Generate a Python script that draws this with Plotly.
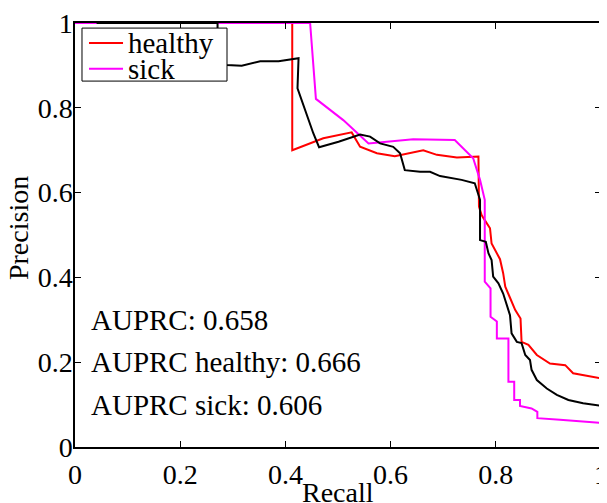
import plotly.graph_objects as go

# ---- data ----
healthy_recall = [0, 0.413, 0.413, 0.472, 0.526, 0.542, 0.574, 0.608, 0.662, 0.688, 0.726, 0.767,
                  0.768, 0.773, 0.779, 0.789, 0.792, 0.808, 0.814, 0.818, 0.827, 0.837, 0.847, 0.849,
                  0.862, 0.878, 0.903, 0.932, 0.947, 0.979, 1.0]
healthy_prec = [1, 1, 0.700, 0.728, 0.742, 0.708, 0.693, 0.686, 0.700, 0.689, 0.683, 0.685,
                0.567, 0.547, 0.535, 0.516, 0.480, 0.443, 0.410, 0.378, 0.352, 0.323, 0.303, 0.248,
                0.241, 0.217, 0.197, 0.193, 0.174, 0.166, 0.162]

sick_recall = [0, 0.447, 0.458, 0.510, 0.558, 0.643, 0.722, 0.757, 0.770, 0.779, 0.779, 0.790, 0.790,
               0.802, 0.802, 0.824, 0.824, 0.835, 0.835, 0.846, 0.846, 0.868, 0.879, 0.879, 0.922,
               0.966, 1.0]
sick_prec = [1, 1, 0.821, 0.771, 0.716, 0.726, 0.724, 0.681, 0.630, 0.583, 0.390, 0.374, 0.307,
             0.296, 0.256, 0.256, 0.154, 0.154, 0.111, 0.111, 0.097, 0.091, 0.083, 0.068, 0.064,
             0.060, 0.057]

all_recall = [0.041, 0.271, 0.271, 0.288, 0.317, 0.352, 0.387, 0.425, 0.423, 0.431, 0.440, 0.453,
              0.464, 0.501, 0.542, 0.561, 0.580, 0.605, 0.618, 0.627, 0.656, 0.675, 0.694, 0.719,
              0.735, 0.760, 0.770, 0.770, 0.781, 0.786, 0.792, 0.795, 0.805, 0.814, 0.821, 0.827,
              0.830, 0.840, 0.849, 0.856, 0.865, 0.868, 0.878, 0.897, 0.916, 0.938, 0.966, 1.0]
all_prec = [1, 1, 0.905, 0.901, 0.899, 0.910, 0.910, 0.917, 0.846, 0.818, 0.783, 0.740,
            0.707, 0.720, 0.737, 0.732, 0.716, 0.708, 0.693, 0.653, 0.649, 0.649, 0.639, 0.634,
            0.630, 0.622, 0.583, 0.488, 0.484, 0.457, 0.441, 0.402, 0.386, 0.362, 0.331, 0.311,
            0.268, 0.248, 0.245, 0.217, 0.205, 0.182, 0.158, 0.138, 0.123, 0.111, 0.103, 0.097]

tick_vals = [0, 0.2, 0.4, 0.6, 0.8, 1]
tick_text = ["0", "0.2", "0.4", "0.6", "0.8", "1"]

auprc_labels = ["AUPRC: 0.658", "AUPRC healthy: 0.666", "AUPRC sick: 0.606"]
auprc_y = [0.3, 0.2, 0.1]

legend_names = ["healthy", "sick"]
legend_colors = ["#ff0000", "#ff00ff"]

FONT = "Liberation Serif, Times New Roman, serif"
FS = 28
FS_TXT = 29

fig = go.Figure()
fig.add_trace(go.Scatter(x=healthy_recall, y=healthy_prec, mode="lines", name=legend_names[0],
                         showlegend=False, line=dict(color=legend_colors[0], width=2)))
fig.add_trace(go.Scatter(x=sick_recall, y=sick_prec, mode="lines", name=legend_names[1],
                         showlegend=False, line=dict(color=legend_colors[1], width=2)))
fig.add_trace(go.Scatter(x=all_recall, y=all_prec, mode="lines", name="all", showlegend=False,
                         line=dict(color="#000000", width=2)))

for txt, yy in zip(auprc_labels, auprc_y):
    fig.add_annotation(x=0.026, y=yy, xref="x", yref="y", text=txt, showarrow=False,
                       xanchor="left", yanchor="middle",
                       font=dict(family=FONT, size=FS_TXT, color="black"))

# legend box (compact, MATLAB-style)
fig.add_shape(type="rect", xref="paper", yref="paper", x0=0.0133, x1=0.289, y0=0.863, y1=0.988,
              fillcolor="white", line=dict(color="black", width=1), layer="above")
for i, (nm, col) in enumerate(zip(legend_names, legend_colors)):
    yy = [0.953, 0.892][i]
    fig.add_shape(type="line", xref="paper", yref="paper", x0=0.0266, x1=0.0913, y0=yy, y1=yy,
                  line=dict(color=col, width=2), layer="above")
    fig.add_annotation(x=0.097, y=yy, xref="paper", yref="paper", text=nm, showarrow=False,
                       xanchor="left", yanchor="middle",
                       font=dict(family=FONT, size=FS_TXT, color="black"))

# axis titles as annotations for precise placement
fig.add_annotation(x=0.5, y=-0.067, xref="paper", yref="paper", text="Recall", showarrow=False,
                   xanchor="center", yanchor="top", font=dict(family=FONT, size=FS, color="black"))
fig.add_annotation(x=-0.106, y=0.517, xref="paper", yref="paper", text="Precision", showarrow=False,
                   textangle=-90, xanchor="center", yanchor="middle",
                   font=dict(family=FONT, size=FS, color="black"))

axis_common = dict(range=[0, 1], showgrid=False, zeroline=False, showline=True, linecolor="black",
                   linewidth=1.5, mirror="ticks", ticks="inside", ticklen=6, tickcolor="black",
                   tickwidth=1, tickvals=tick_vals, ticktext=tick_text, automargin=False,
                   ticklabeloverflow="allow",
                   tickfont=dict(family=FONT, size=FS, color="black"))

# page has an 8px body margin, so the figure is sized/offset to compensate
fig.update_layout(
    width=599, height=495,
    margin=dict(l=67, r=6, t=15, b=56),
    paper_bgcolor="white", plot_bgcolor="white",
    font=dict(family=FONT, size=FS, color="black"),
    xaxis=dict(**axis_common, ticklabelstandoff=2),
    yaxis=dict(**axis_common, ticklabelstandoff=-5),
    showlegend=False,
)

fig.write_html("out.html")
